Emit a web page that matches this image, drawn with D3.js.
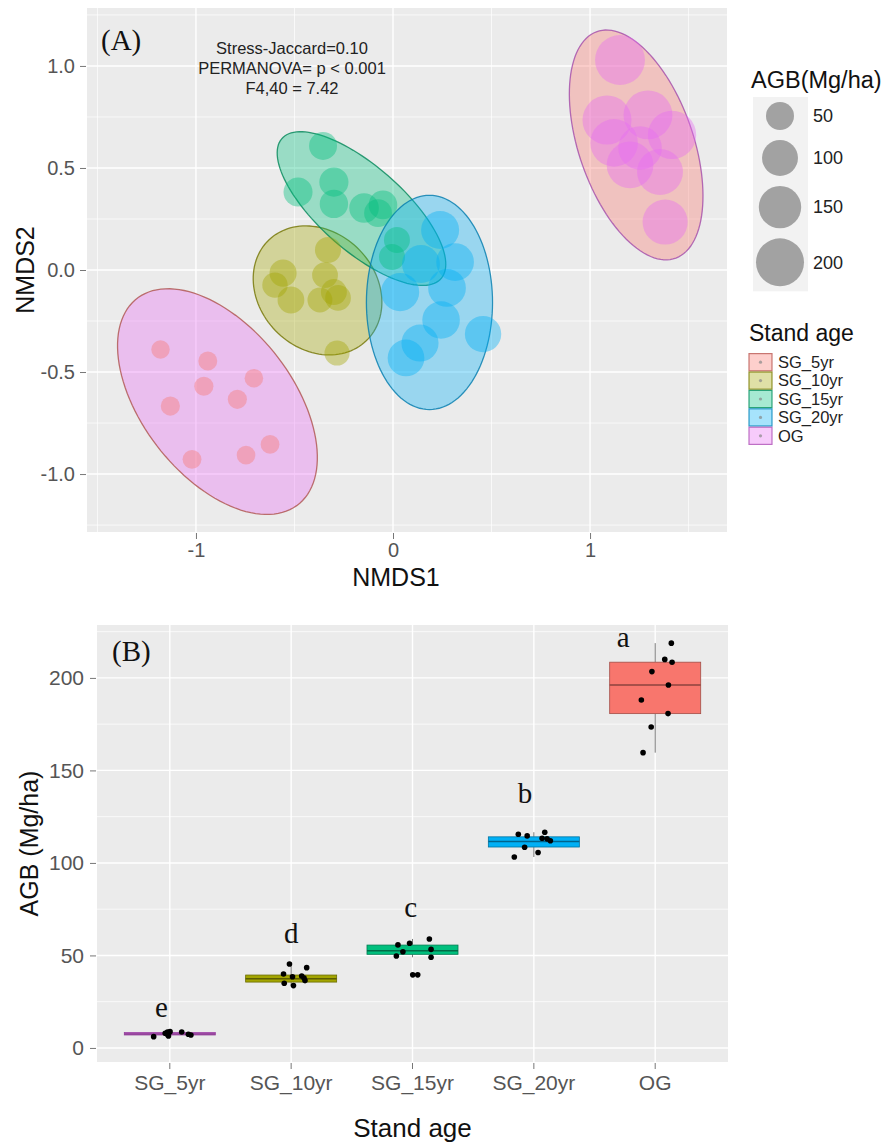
<!DOCTYPE html>
<html>
<head>
<meta charset="utf-8">
<script src="https://cdn.jsdelivr.net/npm/d3@7"></script>
<style>
  body { margin: 0; background: #ffffff; }
  svg { display: block; }
  .sans { font-family: "Liberation Sans", Arial, Helvetica, sans-serif; }
  .serif { font-family: "Liberation Serif", "Times New Roman", Times, serif; }
</style>
</head>
<body>
<svg id="fig" width="887" height="1148" class="sans"></svg>
<script>
// ---------------- data ----------------
const groups = ["SG_5yr", "SG_10yr", "SG_15yr", "SG_20yr", "OG"];

// aboveground biomass per plot (Mg/ha), 9 plots per stand age
const agbSG5  = [6.1, 7.9, 8.6, 6.5, 8.8, 8.6, 7.4, 7.0, 7.6];
const agbSG10 = [45.4, 43.4, 40.0, 38.5, 38.9, 37.8, 35.0, 33.7, 36.4];
const agbSG15 = [49.7, 55.7, 56.6, 52.0, 58.9, 53.3, 49.0, 39.5, 39.5];
const agbSG20 = [115.5, 114.6, 116.6, 113.3, 112.0, 108.5, 105.6, 103.2, 113.0];
const agbOG   = [218.8, 210.0, 208.5, 203.4, 196.2, 188.1, 180.7, 173.5, 159.6];
const agbByGroup = [agbSG5, agbSG10, agbSG15, agbSG20, agbOG];

// horizontal jitter of the plotted points (fraction of one category step)
const jitSG5  = [-0.133, -0.038, -0.019, -0.011, 0.002, 0.098, 0.153, 0.174, -0.024];
const jitSG10 = [-0.014, 0.128, -0.063, 0.011, 0.087, 0.106, -0.057, 0.019, 0.114];
const jitSG15 = [-0.133, -0.120, -0.024, -0.079, 0.139, 0.153, 0.153, 0.002, 0.043];
const jitSG20 = [-0.128, -0.055, 0.090, 0.068, 0.136, -0.076, 0.035, -0.161, 0.109];
const jitOG   = [0.133, 0.079, 0.139, -0.027, 0.109, -0.114, 0.106, -0.033, -0.100];
const jitByGroup = [jitSG5, jitSG10, jitSG15, jitSG20, jitOG];

// box-plot summaries (Mg/ha)
const boxLow  = [6.0, 33.7, 49.0, 103.2, 159.6];
const boxQ1   = [7.0, 35.6, 50.6, 108.6, 180.7];
const boxMed  = [7.6, 37.4, 52.5, 111.6, 196.2];
const boxQ3   = [8.4, 39.4, 55.6, 114.1, 208.5];
const boxHigh = [9.0, 45.4, 58.9, 116.6, 218.8];

// Tukey group letters and where they sit (category index, AGB)
const sigLetters = ["e", "d", "c", "b", "a"];
const letterIdx  = [0.93, 2.0, 2.985, 3.927, 4.737];
const letterAgb  = [16.8, 56.8, 70.8, 132.4, 216.8];

// NMDS site scores
const nmds1SG5  = [-1.18, -0.94, -0.96, -0.706, -1.13, -0.79, -0.624, -0.746, -1.02];
const nmds2SG5  = [-0.39, -0.446, -0.57, -0.53, -0.667, -0.634, -0.855, -0.907, -0.928];
const nmds1SG10 = [-0.558, -0.518, -0.330, -0.345, -0.300, -0.279, -0.284, -0.371, -0.599];
const nmds2SG10 = [-0.015, -0.147, 0.098, -0.025, -0.108, -0.137, -0.407, -0.147, -0.074];
const nmds1SG15 = [-0.355, -0.482, -0.300, -0.300, -0.147, -0.051, -0.076, 0.020, -0.005];
const nmds2SG15 = [0.608, 0.382, 0.431, 0.324, 0.304, 0.319, 0.279, 0.147, 0.064];
const nmds1SG20 = [0.239, 0.142, 0.036, 0.274, 0.244, 0.137, 0.066, 0.457, 0.315];
const nmds2SG20 = [0.196, 0.029, -0.108, -0.088, -0.245, -0.358, -0.431, -0.314, 0.039];
const nmds1OG   = [1.152, 1.086, 1.294, 1.416, 1.122, 1.203, 1.355, 1.381, 1.254];
const nmds2OG   = [1.029, 0.735, 0.760, 0.662, 0.623, 0.515, 0.480, 0.235, 0.598];
const nmds1ByGroup = [nmds1SG5, nmds1SG10, nmds1SG15, nmds1SG20, nmds1OG];
const nmds2ByGroup = [nmds2SG5, nmds2SG10, nmds2SG15, nmds2SG20, nmds2OG];

// 95% ellipses per group: centre, semi-axes (NMDS units), rotation (deg)
const ellCx    = [-0.891, -0.383, -0.160, 0.185, 1.234];
const ellCy    = [-0.645, -0.100, 0.301, -0.159, 0.613];
const ellA     = [0.65, 0.35, 0.53, 0.525, 0.59];
const ellB     = [0.375, 0.29, 0.21, 0.32, 0.29];
const ellAngle = [-50, -40, -40, 90, -70];

// axis ticks and limits
const nmds1Ticks = [-1, 0, 1];
const nmds1Minor = [-1.5, -0.5, 0.5, 1.5];
const nmds2Ticks = [-1.0, -0.5, 0.0, 0.5, 1.0];
const nmds2Minor = [-1.25, -0.75, -0.25, 0.25, 0.75, 1.25];
const nmds1Lim = [-1.553, 1.695];
const nmds2Lim = [-1.284, 1.284];
const agbTicks = [0, 50, 100, 150, 200];
const agbMinor = [25, 75, 125, 175, 225];
const agbLim = [-7.6, 228.6];
const sizeBreaks = [50, 100, 150, 200];

const statLines = ["Stress-Jaccard=0.10", "PERMANOVA= p < 0.001", "F4,40 = 7.42"];

// ---------------- styles ----------------
const hue = ["#F8766D", "#A3A500", "#00BF7D", "#00B0F6", "#E76BF3"];
const ellipseFill = ["#E76BF3", "#A3A500", "#00BF7D", "#00B0F6", "#F8766D"];
const boxFill = ["#E76BF3", "#A3A500", "#00BF7D", "#00B0F6", "#F8766D"];
const panelBg = "#EBEBEB";
const tickTextCol = "#555555";
const tickLineCol = "#777777";

const svg = d3.select("#fig");

function styleAxis(g, size) {
  g.attr("font-family", null).attr("font-size", null);
  g.select(".domain").remove();
  g.selectAll(".tick line").attr("stroke", tickLineCol).attr("stroke-width", 1);
  g.selectAll(".tick text").attr("fill", tickTextCol).style("font-size", size + "px");
}

// ================= Panel A : NMDS ordination =================
const A = { left: 87, right: 727, top: 8, bottom: 532 };
const xA = d3.scaleLinear().domain(nmds1Lim).range([A.left, A.right]);
const yA = d3.scaleLinear().domain(nmds2Lim).range([A.bottom, A.top]);
const rA = d3.scaleRadial().domain([50, 200]).range([14, 24]);

const gA = svg.append("g");
gA.append("rect").attr("x", A.left).attr("y", A.top)
  .attr("width", A.right - A.left).attr("height", A.bottom - A.top).attr("fill", panelBg);

gA.selectAll("line.vminor").data(nmds1Minor).join("line")
  .attr("x1", d => xA(d)).attr("x2", d => xA(d)).attr("y1", A.top).attr("y2", A.bottom)
  .attr("stroke", "#fff").attr("stroke-width", 0.7);
gA.selectAll("line.hminor").data(nmds2Minor).join("line")
  .attr("y1", d => yA(d)).attr("y2", d => yA(d)).attr("x1", A.left).attr("x2", A.right)
  .attr("stroke", "#fff").attr("stroke-width", 0.7);
gA.selectAll("line.vmajor").data(nmds1Ticks).join("line")
  .attr("x1", d => xA(d)).attr("x2", d => xA(d)).attr("y1", A.top).attr("y2", A.bottom)
  .attr("stroke", "#fff").attr("stroke-width", 1.4);
gA.selectAll("line.hmajor").data(nmds2Ticks).join("line")
  .attr("y1", d => yA(d)).attr("y2", d => yA(d)).attr("x1", A.left).attr("x2", A.right)
  .attr("stroke", "#fff").attr("stroke-width", 1.4);

function ellipsePoints(i) {
  const t = ellAngle[i] * Math.PI / 180;
  return d3.range(0, 360, 3).map(k => {
    const p = k * Math.PI / 180;
    const ex = ellA[i] * Math.cos(p), ey = ellB[i] * Math.sin(p);
    return [ellCx[i] + ex * Math.cos(t) - ey * Math.sin(t),
            ellCy[i] + ex * Math.sin(t) + ey * Math.cos(t)];
  });
}
const ellLine = d3.line().x(d => xA(d[0])).y(d => yA(d[1])).curve(d3.curveLinearClosed);

groups.forEach((g, i) => {
  gA.append("path").attr("d", ellLine(ellipsePoints(i)))
    .attr("fill", ellipseFill[i]).attr("fill-opacity", 0.35)
    .attr("stroke", d3.color(hue[i]).darker(1.0)).attr("stroke-width", 1.3)
    .attr("stroke-opacity", 0.8);
});

groups.forEach((g, i) => {
  const pts = nmds1ByGroup[i].map((v, j) => ({ x: v, y: nmds2ByGroup[i][j], agb: agbByGroup[i][j] }));
  gA.append("g").selectAll("circle").data(pts).join("circle")
    .attr("cx", d => xA(d.x)).attr("cy", d => yA(d.y)).attr("r", d => rA(d.agb))
    .attr("fill", hue[i]).attr("fill-opacity", 0.4);
});

const axAy = gA.append("g").attr("transform", `translate(${A.left - 1},0)`)
  .call(d3.axisLeft(yA).tickValues(nmds2Ticks).tickFormat(d => d.toFixed(1)).tickSize(6).tickPadding(5));
styleAxis(axAy, 20);
const axAx = gA.append("g").attr("transform", `translate(0,${A.bottom + 1})`)
  .call(d3.axisBottom(xA).tickValues(nmds1Ticks).tickFormat(d => String(d)).tickSize(6).tickPadding(4));
styleAxis(axAx, 20);

gA.append("text").attr("x", 396).attr("y", 586).attr("text-anchor", "middle")
  .style("font-size", "25px").attr("fill", "#111").text("NMDS1");
gA.append("text").attr("transform", `translate(34,${(A.top + A.bottom) / 2}) rotate(-90)`)
  .attr("text-anchor", "middle").style("font-size", "25px").attr("fill", "#111").text("NMDS2");

gA.append("text").attr("class", "serif").attr("x", 101).attr("y", 50)
  .style("font-size", "29px").attr("fill", "#111").text("(A)");

gA.selectAll("text.stat").data(statLines).join("text")
  .attr("x", 292).attr("y", (d, k) => 54 + k * 20).attr("text-anchor", "middle")
  .style("font-size", "16.5px").attr("fill", "#222").text(d => d);

// ---- legend: AGB sizes ----
const lgA = svg.append("g");
lgA.append("text").attr("x", 751).attr("y", 88).style("font-size", "23.5px").attr("fill", "#111").text("AGB(Mg/ha)");
const keyH = sizeBreaks.map(v => 2 * rA(v) + 10);
const keyTop = 97;
const keyCy = keyH.map((h, k) => keyTop + d3.sum(keyH.slice(0, k)) + h / 2);
lgA.append("rect").attr("x", 753).attr("y", keyTop).attr("width", 55)
  .attr("height", d3.sum(keyH)).attr("fill", "#F2F2F2");
lgA.selectAll("circle").data(sizeBreaks).join("circle")
  .attr("cx", 780).attr("cy", (d, k) => keyCy[k]).attr("r", d => rA(d))
  .attr("fill", "#808080").attr("fill-opacity", 0.7);
lgA.selectAll("text.lab").data(sizeBreaks).join("text")
  .attr("x", 813).attr("y", (d, k) => keyCy[k]).attr("dy", "0.35em")
  .style("font-size", "18px").attr("fill", "#222").text(d => d);

// ---- legend: stand age ----
const lgB = svg.append("g");
lgB.append("text").attr("x", 749).attr("y", 341).style("font-size", "23px").attr("fill", "#111").text("Stand age");
const rowH = 18.4, rowTop = 353;
groups.forEach((g, i) => {
  const y0 = rowTop + i * rowH;
  lgB.append("rect").attr("x", 749).attr("y", y0 + 0.6).attr("width", 23).attr("height", rowH - 1.2)
    .attr("fill", hue[i]).attr("fill-opacity", 0.35)
    .attr("stroke", d3.color(hue[i]).darker(0.8)).attr("stroke-width", 1.2).attr("stroke-opacity", 0.8);
  lgB.append("circle").attr("cx", 760.5).attr("cy", y0 + rowH / 2).attr("r", 1.6)
    .attr("fill", "#888").attr("fill-opacity", 0.7);
  lgB.append("text").attr("x", 778).attr("y", y0 + rowH / 2).attr("dy", "0.35em")
    .style("font-size", "16.5px").attr("fill", "#222").text(g);
});

// ================= Panel B : AGB box plots =================
const B = { left: 97, right: 728, top: 625, bottom: 1062 };
const xB = d3.scaleBand().domain(groups).range([B.left, B.right]).paddingInner(0).paddingOuter(0.1);
const step = xB.step();
const xc = g => xB(g) + xB.bandwidth() / 2;
const xIdx = d3.scaleLinear().domain([1, 5]).range([xc(groups[0]), xc(groups[4])]);
const yB = d3.scaleLinear().domain(agbLim).range([B.bottom, B.top]);

const gB = svg.append("g");
gB.append("rect").attr("x", B.left).attr("y", B.top)
  .attr("width", B.right - B.left).attr("height", B.bottom - B.top).attr("fill", panelBg);
gB.selectAll("line.hminor").data(agbMinor.filter(v => v < agbLim[1])).join("line")
  .attr("y1", d => yB(d)).attr("y2", d => yB(d)).attr("x1", B.left).attr("x2", B.right)
  .attr("stroke", "#fff").attr("stroke-width", 0.7);
gB.selectAll("line.hmajor").data(agbTicks).join("line")
  .attr("y1", d => yB(d)).attr("y2", d => yB(d)).attr("x1", B.left).attr("x2", B.right)
  .attr("stroke", "#fff").attr("stroke-width", 1.4);
gB.selectAll("line.vmajor").data(groups).join("line")
  .attr("x1", d => xc(d)).attr("x2", d => xc(d)).attr("y1", B.top).attr("y2", B.bottom)
  .attr("stroke", "#fff").attr("stroke-width", 1.4);

const boxW = step * 0.75;
groups.forEach((g, i) => {
  const cx = xc(g);
  gB.append("line").attr("x1", cx).attr("x2", cx).attr("y1", yB(boxHigh[i])).attr("y2", yB(boxQ3[i]))
    .attr("stroke", "#777").attr("stroke-width", 1);
  gB.append("line").attr("x1", cx).attr("x2", cx).attr("y1", yB(boxQ1[i])).attr("y2", yB(boxLow[i]))
    .attr("stroke", "#777").attr("stroke-width", 1);
  gB.append("rect").attr("x", cx - boxW / 2).attr("y", yB(boxQ3[i]))
    .attr("width", boxW).attr("height", Math.max(1, yB(boxQ1[i]) - yB(boxQ3[i])))
    .attr("fill", boxFill[i]).attr("stroke", d3.color(boxFill[i]).darker(1.2)).attr("stroke-width", 0.8);
  gB.append("line").attr("x1", cx - boxW / 2).attr("x2", cx + boxW / 2)
    .attr("y1", yB(boxMed[i])).attr("y2", yB(boxMed[i]))
    .attr("stroke", d3.color(boxFill[i]).darker(1.6)).attr("stroke-width", 1.5);
});

groups.forEach((g, i) => {
  const pts = agbByGroup[i].map((v, j) => ({ v, j: jitByGroup[i][j] }));
  gB.append("g").selectAll("circle").data(pts).join("circle")
    .attr("cx", d => xc(g) + d.j * step).attr("cy", d => yB(d.v)).attr("r", 2.8)
    .attr("fill", "#000");
});

gB.selectAll("text.letter").data(sigLetters).join("text")
  .attr("class", "serif")
  .attr("x", (d, k) => xIdx(letterIdx[k])).attr("y", (d, k) => yB(letterAgb[k]))
  .attr("text-anchor", "middle")
  .style("font-size", "29px").attr("fill", "#111").text(d => d);

const axBy = gB.append("g").attr("transform", `translate(${B.left - 1},0)`)
  .call(d3.axisLeft(yB).tickValues(agbTicks).tickSize(6).tickPadding(6));
styleAxis(axBy, 21);
const axBx = gB.append("g").attr("transform", `translate(0,${B.bottom + 1})`)
  .call(d3.axisBottom(xB).tickSize(6).tickPadding(6));
styleAxis(axBx, 21);

gB.append("text").attr("x", (B.left + B.right) / 2).attr("y", 1137).attr("text-anchor", "middle")
  .style("font-size", "26px").attr("fill", "#111").text("Stand age");
gB.append("text").attr("transform", `translate(38,${(B.top + B.bottom) / 2}) rotate(-90)`)
  .attr("text-anchor", "middle").style("font-size", "25px").attr("fill", "#111").text("AGB (Mg/ha)");

gB.append("text").attr("class", "serif").attr("x", 112).attr("y", 661)
  .style("font-size", "29px").attr("fill", "#111").text("(B)");
</script>
</body>
</html>
